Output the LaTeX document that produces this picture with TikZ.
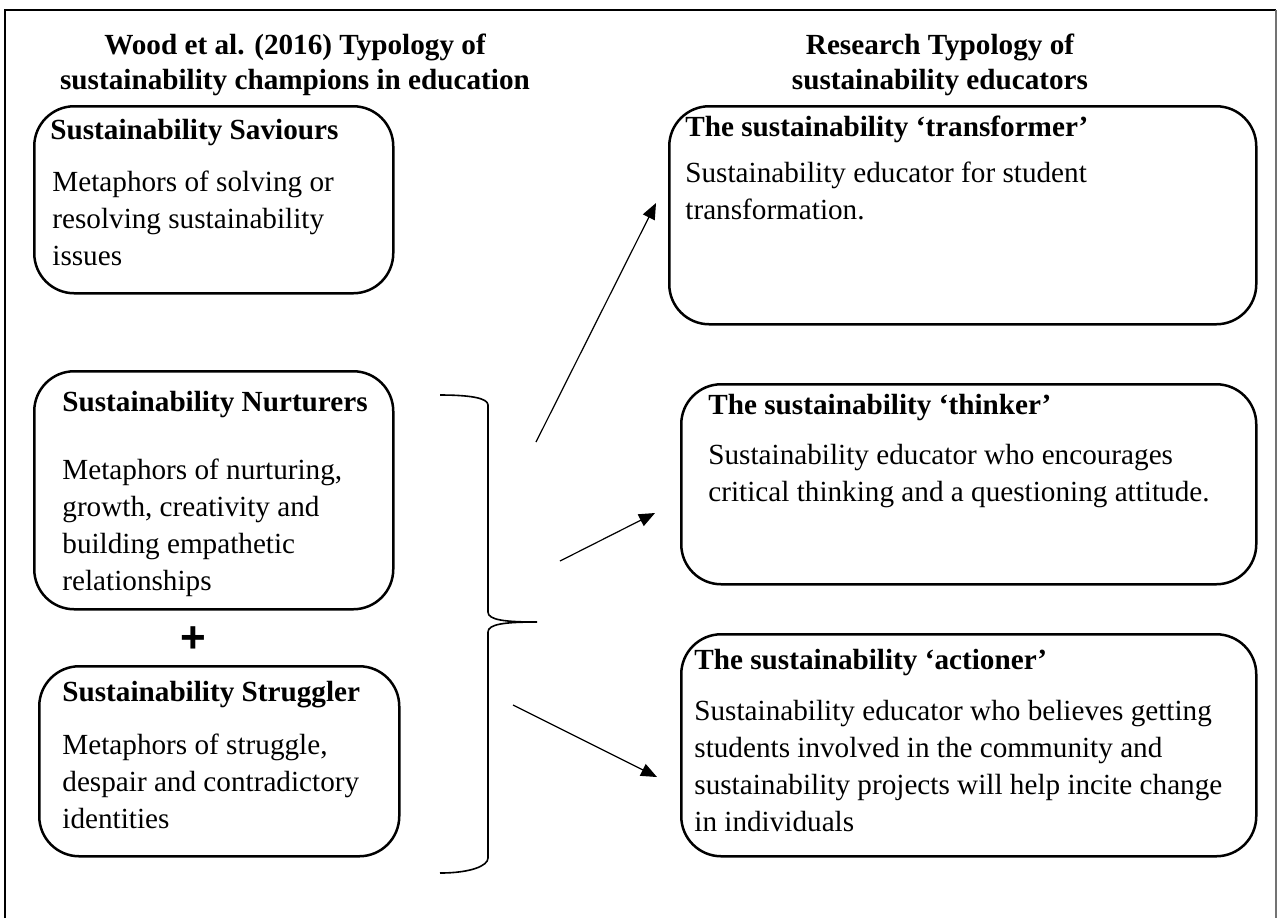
\documentclass[tikz,border=0pt]{standalone}
\usepackage{fontspec}
\setmainfont{Liberation Serif}
\newfontfamily\plusfont{Liberation Sans}
\usetikzlibrary{arrows.meta}
\begin{document}
\begin{tikzpicture}[x=0.5pt,y=-0.5pt,
  box/.style={draw, line width=1.25pt, rounded corners=20pt, inner sep=0pt, anchor=north west},
  ttl/.style={anchor=base west, inner sep=0pt, font=\fontsize{14.6}{18.5}\selectfont\bfseries},
  body/.style={anchor=north west, align=left, inner sep=0pt, font=\fontsize{14.6}{18.5}\selectfont},
  head/.style={anchor=north, align=center, inner sep=0pt, font=\fontsize{14.6}{17.5}\selectfont\bfseries},
  conn/.style={line width=0.6pt, -{Triangle[length=8pt,width=6.5pt]}},
]
\useasboundingbox (0,0) rectangle (1278,918);

% outer frame, open at the bottom
\draw[line width=1pt] (5,918) -- (5,10) -- (1276,10);
\draw[line width=1pt, black!55] (1276,10) -- (1276,918);

% column headings
\node[head] (hl) at (295,34) {Wood et al. (2016) Typology of\\sustainability champions in education};
\node[head] (hr) at (940,34) {Research Typology of\\sustainability educators};

% left column: Wood et al. typology
\node[box, minimum width=179.5pt, minimum height=93.5pt] (sav) at (33,105) {};
\node[ttl] (savt) at (50,139) {Sustainability Saviours};
\node[body] (savb) at (52,171) {Metaphors of solving or\\resolving sustainability\\issues};

\node[box, minimum width=179.5pt, minimum height=119pt] (nur) at (33,370) {};
\node[ttl] (nurt) at (62,411) {Sustainability Nurturers};
\node[body] (nurb) at (62,459) {Metaphors of nurturing,\\growth, creativity and\\building empathetic\\relationships};

\node[inner sep=0pt, font=\plusfont\fontsize{22}{22}\selectfont\bfseries] (plus) at (193,640) {+};

\node[box, minimum width=180pt, minimum height=95pt] (str) at (38,665) {};
\node[ttl] (strt) at (62,701) {Sustainability Struggler};
\node[body] (strb) at (62,734) {Metaphors of struggle,\\despair and contradictory\\identities};

% right column: research typology
\node[box, minimum width=293.5pt, minimum height=109pt] (tra) at (668,105) {};
\node[ttl] (trat) at (685,136) {The sustainability ‘transformer’};
\node[body] (trab) at (685,162) {Sustainability educator for student\\transformation.};

\node[box, minimum width=287.5pt, minimum height=100pt] (thi) at (680,383) {};
\node[ttl] (thit) at (708,414) {The sustainability ‘thinker’};
\node[body] (thib) at (708,444) {Sustainability educator who encourages\\critical thinking and a questioning attitude.};

\node[box, minimum width=287.5pt, minimum height=111pt] (act) at (680,633) {};
\node[ttl] (actt) at (694,669) {The sustainability ‘actioner’};
\node[body] (actb) at (694,700) {Sustainability educator who believes getting\\students involved in the community and\\sustainability projects will help incite change\\in individuals};

% brace grouping nurturers and strugglers
\draw[line width=0.8pt] (440,395) .. controls (470,395) and (488,398) .. (488,405)
  -- (488,612) .. controls (488,620) and (505,622) .. (537,622)
  .. controls (505,622) and (488,624) .. (488,632)
  -- (488,858) .. controls (488,866) and (470,873) .. (440,873);

% arrows from the brace to the research typology
\coordinate (a1s) at (536,442); \coordinate (a1e) at (656,203);
\coordinate (a2s) at (560,561); \coordinate (a2e) at (655,513);
\coordinate (a3s) at (513,705); \coordinate (a3e) at (657,777);
\draw[conn] (a1s) -- (a1e);
\draw[conn] (a2s) -- (a2e);
\draw[conn] (a3s) -- (a3e);
\end{tikzpicture}
\end{document}
